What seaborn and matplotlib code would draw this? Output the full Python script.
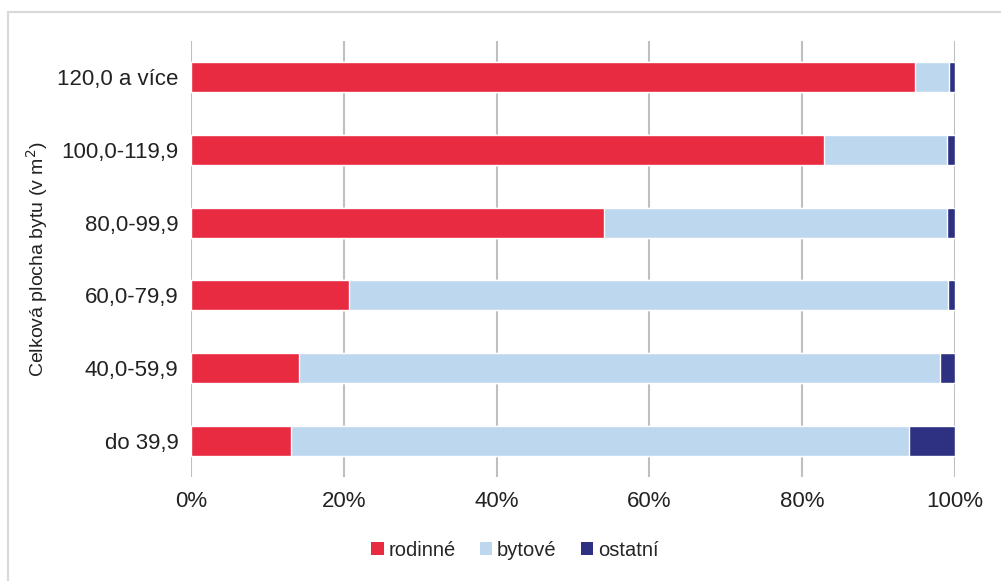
import numpy as np
import pandas as pd
import matplotlib.pyplot as plt
import seaborn as sns
from matplotlib.patches import Patch
from matplotlib.lines import Line2D

categories = ["120,0 a více", "100,0-119,9", "80,0-99,9", "60,0-79,9", "40,0-59,9", "do 39,9"]
rodinne = [94.8, 82.8, 54.1, 20.7, 14.1, 13.1]
bytove = [4.4, 16.1, 44.8, 78.4, 84.0, 80.9]
ostatni = [0.8, 1.1, 1.1, 0.9, 1.9, 6.0]

series_names = ["rodinné", "bytové", "ostatní"]
colors = ["#E82B40", "#BDD7EE", "#2E3182"]

sns.set_style("white")
plt.rcParams['font.family'] = ['Liberation Sans', 'DejaVu Sans']

df = pd.DataFrame({"kat": categories, "rodinne": rodinne, "bytove": bytove, "ostatni": ostatni})
df["c1"] = df["rodinne"]
df["c2"] = df["c1"] + df["bytove"]
df["c3"] = df["c2"] + df["ostatni"]

fig = plt.figure(figsize=(10.01, 5.81), dpi=100)
ax = fig.add_axes([191 / 1001, 1 - 477 / 581, (955 - 191) / 1001, (477 - 41) / 581])

for col, color in zip(["c3", "c2", "c1"], colors[::-1]):
    sns.barplot(data=df, y="kat", x=col, color=color, orient="h", width=0.41,
                saturation=1, ax=ax, zorder=3)

ax.set_xlim(0, 100)
ax.set_xticks(np.arange(0, 101, 20))
ax.set_xticklabels([f"{v}%" for v in range(0, 101, 20)], fontsize=16, color="#222222")
ax.tick_params(axis="y", labelsize=16, labelcolor="#222222", length=0, pad=9)
ax.tick_params(axis="x", length=0, pad=10)
ax.grid(axis="x", color="#BFBFBF", linewidth=1.5, zorder=0)
ax.set_axisbelow(True)
for s in ax.spines.values():
    s.set_visible(False)
ax.set_xlabel("")
ax.set_ylabel("Celková plocha bytu (v m$^2$)", fontsize=14, color="#222222", labelpad=5)

handles = [Patch(facecolor=c, edgecolor="none", label=n) for c, n in zip(colors, series_names)]
fig.legend(handles=handles, loc="center", bbox_to_anchor=(515 / 1001, 1 - 550 / 581), ncol=3,
           frameon=False, fontsize=14.5, handlelength=0.6, handleheight=0.6,
           handletextpad=0.25, columnspacing=1.2)

# light frame of the chart area (only left and top edges fall inside the image)
bx, by = 7.5 / 1001, 1 - 11.5 / 581
fig.lines.append(Line2D([bx, bx], [0, by], transform=fig.transFigure, color="#D9D9D9", linewidth=1.5))
fig.lines.append(Line2D([bx, 1], [by, by], transform=fig.transFigure, color="#D9D9D9", linewidth=1.5))

fig.savefig("out.png", dpi=100)
